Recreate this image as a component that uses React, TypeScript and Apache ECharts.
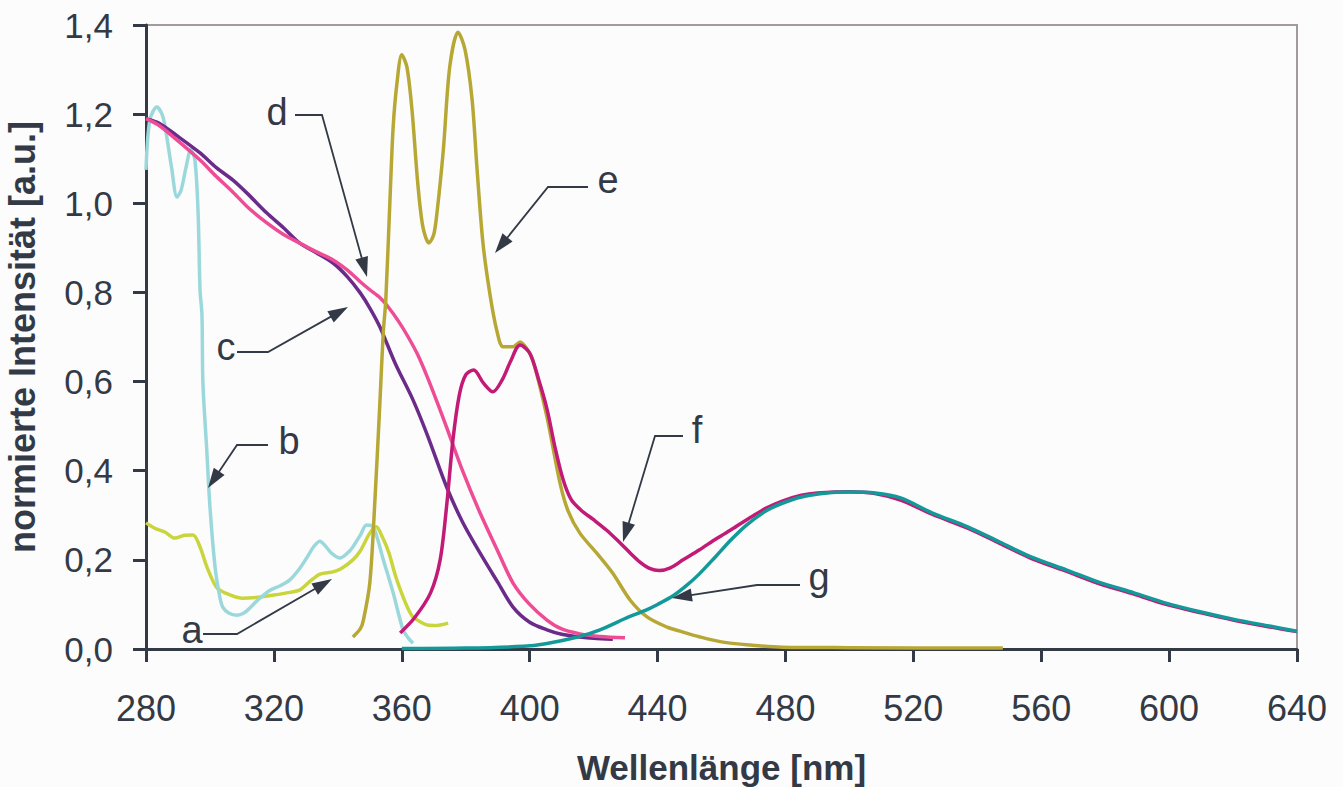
import React, { useEffect, useRef } from "react";
import * as echarts from "echarts";

// ---------- data ----------
const xTicks = [280, 320, 360, 400, 440, 480, 520, 560, 600, 640];
const yTicks = [0, 0.2, 0.4, 0.6, 0.8, 1.0, 1.2, 1.4];

const seriesNames = ["a", "b", "c", "d", "e", "f", "g"];

const curveA: [number, number][] = [
  [280, 0.283], [283, 0.27], [286, 0.262], [289, 0.249], [292, 0.255], [294.7, 0.256],
  [296.9, 0.229], [299, 0.185], [302, 0.139], [305, 0.125], [310, 0.114], [315, 0.116],
  [320, 0.121], [325, 0.127], [328, 0.132], [331, 0.15], [334.4, 0.168], [338.5, 0.173],
  [341, 0.18], [344.7, 0.2], [347, 0.22], [350, 0.26], [352, 0.274], [354, 0.25],
  [356, 0.215], [358, 0.165], [360.4, 0.117], [362, 0.09], [363.5, 0.072], [366, 0.06],
  [368, 0.054], [371, 0.053], [374.5, 0.058],
];

const curveB: [number, number][] = [
  [280, 1.075], [281.2, 1.187], [283.4, 1.216], [285, 1.2], [286, 1.171], [288, 1.08],
  [289.7, 1.014], [291, 1.03], [292.5, 1.08], [294, 1.12], [295.3, 1.097], [296.3, 0.978],
  [296.9, 0.805], [297.5, 0.75], [297.8, 0.597], [299, 0.447], [300, 0.319], [301.6, 0.184],
  [303, 0.12], [304, 0.094], [306, 0.08], [308.5, 0.076], [310.5, 0.08], [312.5, 0.092],
  [315, 0.11], [318.8, 0.132], [322, 0.142], [325, 0.155], [328, 0.18], [330.4, 0.206],
  [332.5, 0.23], [334.4, 0.242], [336, 0.232], [338, 0.215], [340.7, 0.204], [343, 0.215],
  [344.7, 0.229], [347, 0.255], [349, 0.278], [351, 0.274], [352.5, 0.245], [354, 0.206],
  [357.3, 0.126], [360.4, 0.043], [362, 0.025], [363.5, 0.013],
];

const curveC: [number, number][] = [
  [280, 1.19], [284, 1.18], [290, 1.15], [296.9, 1.113], [302, 1.08], [307.2, 1.052],
  [312, 1.02], [317.8, 0.978], [323, 0.945], [328, 0.911], [333, 0.89], [338.5, 0.866],
  [343, 0.835], [347, 0.799], [350, 0.765], [353.2, 0.722], [358, 0.64], [363.5, 0.559],
  [368, 0.48], [374, 0.364], [379, 0.285], [384.5, 0.215], [390, 0.15], [394.8, 0.094],
  [400, 0.06], [405.4, 0.043], [410, 0.033], [415.7, 0.027], [420, 0.024], [426, 0.022],
];

const curveD: [number, number][] = [
  [280, 1.19], [284, 1.175], [290, 1.14], [296.9, 1.097], [302, 1.06], [307.2, 1.025],
  [312, 0.99], [317.8, 0.956], [323, 0.93], [328, 0.911], [333, 0.892], [338.5, 0.873],
  [343, 0.85], [347, 0.824], [350, 0.806], [353.2, 0.788], [356, 0.765], [359, 0.735],
  [362, 0.7], [365, 0.66], [368, 0.61], [371, 0.555], [374, 0.498], [379, 0.4],
  [384.5, 0.305], [390, 0.22], [394.8, 0.148], [400, 0.1], [405.4, 0.065], [410, 0.045],
  [415.7, 0.034], [422, 0.028], [429.8, 0.025],
];

const curveE: [number, number][] = [
  [344.7, 0.027], [347, 0.045], [348, 0.065], [350, 0.148], [351.6, 0.334], [353.2, 0.559],
  [354.2, 0.709], [355, 0.783], [356.3, 1.007], [357.3, 1.171], [358.5, 1.27], [360, 1.333],
  [361.6, 1.306], [363.2, 1.209], [365, 1.045], [366.6, 0.947], [368.5, 0.911], [370, 0.93],
  [371, 0.978], [373, 1.12], [375, 1.306], [377.6, 1.384], [379.8, 1.344], [382, 1.232],
  [383.5, 1.081], [385.4, 0.91], [387.6, 0.795], [389.8, 0.712], [391.7, 0.678],
  [394.8, 0.678], [397, 0.689], [399, 0.675], [401, 0.648], [405.4, 0.521], [409.5, 0.372],
  [412, 0.31], [415.7, 0.26], [421, 0.215], [426, 0.17], [431.4, 0.11], [436.7, 0.072],
  [443, 0.049], [447, 0.04], [453.3, 0.027], [460, 0.016], [469, 0.009], [479, 0.004],
  [500, 0.003], [548, 0.002],
];

const curveF: [number, number][] = [
  [359.5, 0.036], [364, 0.07], [369, 0.126], [372, 0.2], [374, 0.319], [376, 0.469],
  [378, 0.57], [380, 0.615], [382.5, 0.626], [385.5, 0.597], [388.5, 0.577], [391.5, 0.605],
  [394, 0.645], [397, 0.682], [400, 0.664], [403, 0.6], [405.5, 0.536], [408, 0.45],
  [410.5, 0.379], [413, 0.335], [416, 0.312], [420, 0.29], [424, 0.267], [428, 0.24],
  [431.5, 0.215], [434.5, 0.195], [437.5, 0.181], [440.5, 0.176], [444, 0.182],
  [448, 0.2], [453, 0.222], [458.5, 0.248], [464, 0.272], [469, 0.295], [474, 0.316],
  [479, 0.332], [485, 0.345], [490, 0.35], [500, 0.353], [508, 0.349], [516, 0.334],
  [526, 0.302], [537, 0.271], [547, 0.237], [557, 0.203], [568, 0.174], [578, 0.147],
  [589, 0.123], [599, 0.1], [610, 0.081], [620, 0.065], [631, 0.05], [640, 0.039],
];

const curveG: [number, number][] = [
  [360, 0.001], [380, 0.002], [398, 0.006], [405, 0.012], [415, 0.027], [422, 0.043],
  [431, 0.072], [436, 0.086], [440, 0.1], [445, 0.12], [449, 0.142], [453, 0.168],
  [458, 0.206], [463, 0.245], [468, 0.279], [474, 0.31], [479, 0.327], [485, 0.341],
  [493, 0.35], [500, 0.352], [508, 0.35], [516, 0.339], [526, 0.305], [537, 0.274],
  [547, 0.24], [557, 0.206], [568, 0.177], [578, 0.15], [589, 0.126], [599, 0.103],
  [610, 0.083], [620, 0.067], [631, 0.052], [640, 0.04],
];

const curves = [curveA, curveB, curveC, curveD, curveE, curveF, curveG];

// ---------- styles / layout ----------
const colors = ["#c9d53c", "#9bd8dc", "#6a2b8a", "#ee4d96", "#b7a735", "#c21a77", "#13999a"];
const ink = "#333a46";
const font = "'Liberation Sans', Arial, sans-serif";

// annotation layout (pixels): label centre, leader corner points, arrow tip
const annotations = [
  { label: "a", tx: 192, ty: 630, pts: [[203, 634], [237, 634]], tip: [332, 579] },
  { label: "b", tx: 289, ty: 441, pts: [[268, 445], [237, 445]], tip: [208, 488] },
  { label: "c", tx: 226, ty: 347, pts: [[237, 352], [268, 352]], tip: [348, 307] },
  { label: "d", tx: 277, ty: 112, pts: [[295, 115], [322, 115]], tip: [367, 277] },
  { label: "e", tx: 608, ty: 180, pts: [[588, 187], [548, 187]], tip: [495, 253] },
  { label: "f", tx: 697, ty: 430, pts: [[683, 436], [655, 436]], tip: [623, 542] },
  { label: "g", tx: 819, ty: 577, pts: [[800, 585], [757, 585]], tip: [672, 598] },
];

function buildGraphics() {
  const els: any[] = [];
  annotations.forEach((a) => {
    const last = a.pts[a.pts.length - 1];
    const dx = a.tip[0] - last[0];
    const dy = a.tip[1] - last[1];
    const len = Math.sqrt(dx * dx + dy * dy);
    const ux = dx / len;
    const uy = dy / len;
    const L = 20;
    const W = 6.5;
    const bx = a.tip[0] - ux * L;
    const by = a.tip[1] - uy * L;
    els.push({
      type: "polyline",
      shape: { points: [...a.pts, [bx + ux * 4, by + uy * 4]] },
      style: { stroke: ink, lineWidth: 1.8, fill: null },
      z: 100,
    });
    els.push({
      type: "polygon",
      shape: {
        points: [
          a.tip,
          [bx - uy * W, by + ux * W],
          [bx + uy * W, by - ux * W],
        ],
      },
      style: { fill: ink },
      z: 100,
    });
    els.push({
      type: "text",
      x: a.tx,
      y: a.ty,
      style: {
        text: a.label,
        font: `38px ${font}`,
        fill: ink,
        textAlign: "center",
        textVerticalAlign: "middle",
      },
      z: 100,
    });
  });
  return els;
}

export default function App() {
  const ref = useRef<HTMLDivElement>(null);
  useEffect(() => {
    if (!ref.current) return;
    const chart = echarts.init(ref.current, null, { renderer: "svg" });
    chart.setOption({
      animation: false,
      backgroundColor: "#fcfcfc",
      grid: {
        left: 146,
        right: 46,
        top: 25,
        bottom: 138,
        containLabel: false,
        outerBoundsMode: "none",
        show: true,
        borderColor: "#a39b9b",
        borderWidth: 2,
        backgroundColor: "transparent",
      },
      xAxis: {
        type: "value",
        min: xTicks[0],
        max: xTicks[xTicks.length - 1],
        interval: xTicks[1] - xTicks[0],
        name: "Wellenlänge [nm]",
        nameLocation: "middle",
        nameGap: 101,
        nameTextStyle: { fontSize: 35, fontWeight: "bold", color: ink, fontFamily: font },
        axisLine: { show: true, lineStyle: { color: ink, width: 3 } },
        axisTick: { show: true, inside: false, length: 13, lineStyle: { color: ink, width: 3 } },
        axisLabel: { fontSize: 36, color: ink, fontFamily: font, margin: 41 },
        splitLine: { show: false },
      },
      yAxis: {
        type: "value",
        min: yTicks[0],
        max: yTicks[yTicks.length - 1],
        interval: 0.2,
        name: "normierte Intensität [a.u.]",
        nameLocation: "middle",
        nameGap: 106,
        nameTextStyle: { fontSize: 36, fontWeight: "bold", color: ink, fontFamily: font },
        axisLine: { show: true, lineStyle: { color: ink, width: 3 } },
        axisTick: { show: true, inside: false, length: 13, lineStyle: { color: ink, width: 3 } },
        axisLabel: {
          fontSize: 35,
          color: ink,
          fontFamily: font,
          margin: 33,
          formatter: (v: number) => v.toFixed(1).replace(".", ","),
        },
        splitLine: { show: false },
      },
      series: curves.map((c, i) => ({
        name: seriesNames[i],
        type: "line",
        data: c,
        showSymbol: false,
        smooth: 0.3,
        lineStyle: { color: colors[i], width: 3.5 },
        itemStyle: { color: colors[i] },
        z: 2 + i,
      })),
      graphic: buildGraphics(),
    });
    return () => chart.dispose();
  }, []);
  return (
    <div
      ref={ref}
      style={{ position: "absolute", left: 0, top: 0, width: 1343, height: 787 }}
    />
  );
}
